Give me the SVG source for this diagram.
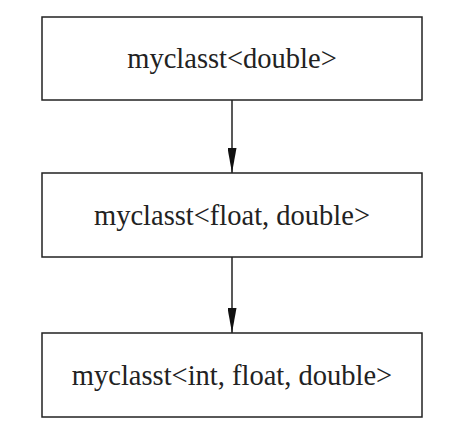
<svg xmlns="http://www.w3.org/2000/svg" width="460" height="440" viewBox="0 0 460 440">
<style>
.box{fill:#fff;stroke:#222;stroke-width:1.5}
.lbl{font-family:"Liberation Serif","Times New Roman",serif;font-size:28.5px;fill:#222;text-anchor:middle}
.edge{stroke:#222;stroke-width:1.5;fill:none}
</style>
<defs>
<marker id="arr" markerWidth="25" markerHeight="9" refX="25" refY="4.5" orient="auto" markerUnits="userSpaceOnUse" viewBox="0 0 25 9">
<path d="M0,0 L25,4.5 L0,9 Z" fill="#111"/>
</marker>
</defs>
<rect width="460" height="440" fill="#fff"/>
<g id="connectors">
<line class="edge" x1="232" y1="100" x2="232" y2="173" marker-end="url(#arr)"/>
<line class="edge" x1="232" y1="257" x2="232" y2="333" marker-end="url(#arr)"/>
</g>
<g id="node1">
<rect class="box" x="42" y="17" width="380" height="83"/>
<text class="lbl" x="232" y="68">myclasst&lt;double&gt;</text>
</g>
<g id="node2">
<rect class="box" x="42" y="173" width="380" height="84"/>
<text class="lbl" x="232" y="225">myclasst&lt;float, double&gt;</text>
</g>
<g id="node3">
<rect class="box" x="42" y="333" width="380" height="84"/>
<text class="lbl" x="232" y="385">myclasst&lt;int, float, double&gt;</text>
</g>
</svg>
